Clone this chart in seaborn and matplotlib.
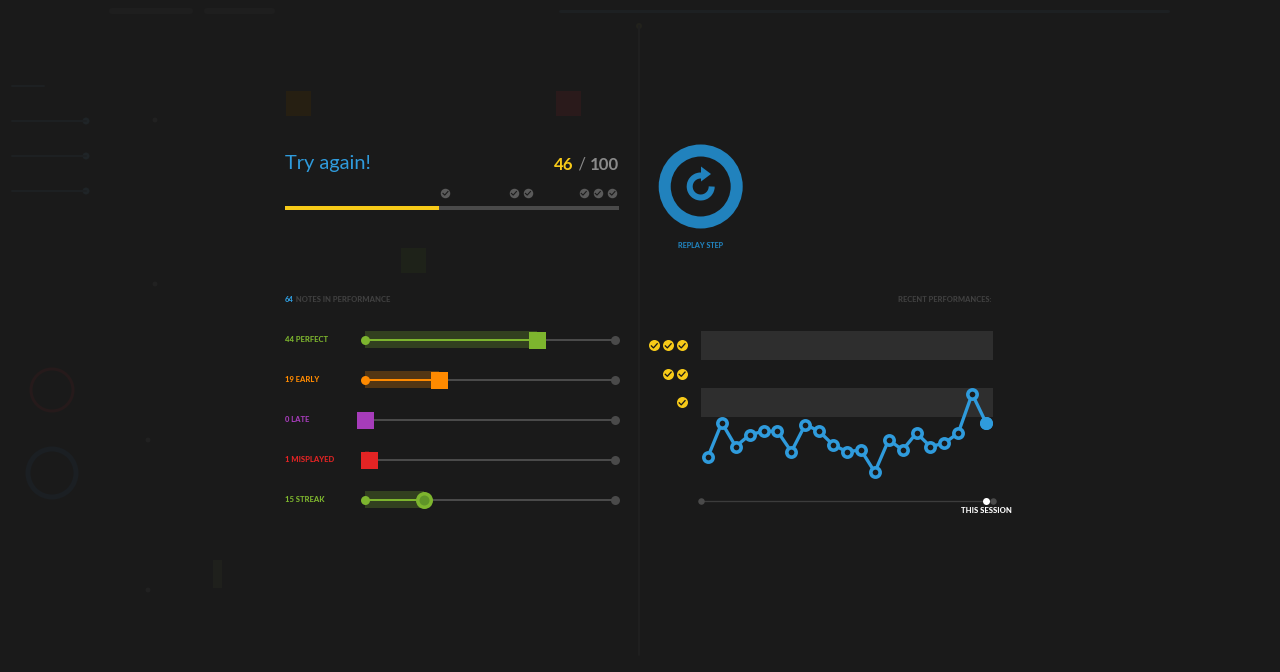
import matplotlib
matplotlib.use('Agg')
import matplotlib.pyplot as plt
import seaborn as sns
import pandas as pd
from matplotlib.patches import Circle, Rectangle, Arc, Polygon
from matplotlib.path import Path

# values
score = 46
score_max = 100
star_marks = [48, 68.5, 72.7, 89.4, 93.6, 98]

note_total = 64
slider_names = ['PERFECT', 'EARLY', 'LATE', 'MISPLAYED', 'STREAK']
slider_counts = [44, 19, 0, 1, 15]
slider_colors = ['#7db52e', '#ff8a00', '#a63cba', '#e32424', '#7db52e']

recent_scores = [26, 46, 32, 39, 41, 41, 29, 45, 41, 33, 29, 30, 17, 36, 30, 40, 32, 34, 40, 63, 46]
band_ranges = [(83, 100), (49.5, 66.5)]
star_rows = [3, 2, 1]
star_row_scores = [91.5, 74.8, 58]

BG = '#1a1a1a'
BLUE = '#2f9bdc'
RING = '#2182bd'
YELLOW = '#f7ca18'
GREY = '#4a4a4a'
HEAVY = 900
W, H = 1280, 672
PT = 0.72  # one pixel in points at dpi 100

sns.set_theme(style='dark', rc={'figure.facecolor': BG, 'axes.facecolor': BG, 'savefig.facecolor': BG})
plt.rcParams['font.family'] = ['Lato', 'DejaVu Sans']


def px_axes(fig, left, top, right, bottom):
    ax = fig.add_axes([left / W, 1 - bottom / H, (right - left) / W, (bottom - top) / H])
    ax.axis('off')
    return ax


def dots(ax, x, y, size, color, **kw):
    sns.scatterplot(x=x, y=y, ax=ax, s=(size * PT) ** 2, color=color, linewidth=0, clip_on=False, legend=False, **kw)


fig = plt.figure(figsize=(W / 100, H / 100), dpi=100)

# page furniture in pixel coordinates, barely visible behind the overlay
page = px_axes(fig, 0, 0, W, H)
page.set_xlim(0, W)
page.set_ylim(H, 0)
page.plot([639, 639], [26, 655], color='#1f1f1f', lw=2 * PT)
page.add_patch(Circle((639, 26), 3, color='#22221c', lw=0))
page.plot([560, 1168], [11, 11], color='#1d2022', lw=3 * PT)
for x0, x1 in [(112, 190), (207, 272)]:
    page.plot([x0, x1], [11, 11], color='#1e1e1e', lw=6 * PT)
for x, y, c in [(298, 103, '#261f12'), (568, 103, '#2a1a1b'), (413, 260, '#1e2219')]:
    page.add_patch(Rectangle((x - 12.5, y - 12.5), 25, 25, color=c, lw=0))
for y in [121, 156, 191]:
    page.plot([12, 86], [y, y], color='#1d2022', lw=2 * PT)
    page.add_patch(Circle((86, y), 3.5, color='#1f2427', lw=0))
page.plot([12, 44], [86, 86], color='#1d2022', lw=2 * PT)
page.add_patch(Circle((52, 390), 21, fill=False, ec='#261a1b', lw=3 * PT))
page.add_patch(Circle((52, 473), 24, fill=False, ec='#1b1f23', lw=5 * PT))
for x, y in [(155, 120), (155, 284), (148, 440), (148, 590)]:
    page.add_patch(Circle((x, y), 2.5, color='#212121', lw=0))
page.add_patch(Rectangle((213, 560), 9, 28, color='#1f201c', lw=0))

# replay button
cx, cy = 700.7, 186.5
page.add_patch(Circle((cx, cy), 36, fill=False, ec=RING, lw=12 * PT))
page.add_patch(Arc((cx, cy), 22, 22, theta1=0, theta2=272, ec=RING, lw=6 * PT))
page.add_patch(Polygon([(701, 166.5), (711, 174), (701, 181.5)], color=RING, lw=0))
page.text(cx, 246, 'REPLAY STEP', color=RING, fontsize=5.2, fontweight=HEAVY, ha='center', va='center')

# headline and score
page.text(285, 163, 'Try again!', color=BLUE, fontsize=14.4, ha='left', va='center')
t = page.text(554, 165, str(score), color=YELLOW, fontsize=12.2, fontweight='bold', ha='left', va='center')
t = page.annotate(' / ', xy=(1, 0), xycoords=t, va='bottom', color='#8a8a8a', fontsize=12.2)
page.annotate(str(score_max), xy=(1, 0), xycoords=t, va='bottom', color='#8a8a8a', fontsize=12.2, fontweight='bold')

t = page.text(285, 299.5, str(note_total), color=BLUE, fontsize=5.5, fontweight=HEAVY, ha='left', va='center')
page.annotate(' NOTES IN PERFORMANCE', xy=(1, 0), xycoords=t, va='bottom', color='#404040', fontsize=5.5, fontweight=HEAVY)
page.text(992, 299.5, 'RECENT PERFORMANCES:', color='#404040', fontsize=5.4, fontweight=HEAVY, ha='right', va='center')

# score bar
bar = px_axes(fig, 285, 188, 619, 213)
bar.set_xlim(0, score_max)
bar.set_ylim(-1 / 3, 4 / 3)
bar.plot([0, score_max], [0, 0], color=GREY, lw=4 * PT, solid_capstyle='butt')
bar.plot([0, score], [0, 0], color=YELLOW, lw=4 * PT, solid_capstyle='butt')
dots(bar, star_marks, [1] * len(star_marks), 9.5, '#5a5a5a')
CHECK = Path([(-0.55, 0.0), (-0.12, -0.42), (0.6, 0.38)])
bar.scatter(star_marks, [1] * len(star_marks), marker=CHECK, s=(6 * PT) ** 2, facecolors='none',
            edgecolors=BG, linewidths=1.1 * PT, clip_on=False)

# sliders
sl = px_axes(fig, 365, 319.5, 615, 519.5)
df = pd.DataFrame({'name': slider_names, 'count': slider_counts})
sns.barplot(data=df, x='count', y='name', hue='name', palette=slider_colors, width=0.43, alpha=0.25,
            ax=sl, orient='h', legend=False, saturation=1, linewidth=0, edgecolor='none')
sl.axis('off')
sl.set_xlim(0, note_total)
sl.set_ylim(4.5, -0.5)
for i, (name, count, color) in enumerate(zip(slider_names, slider_counts, slider_colors)):
    sl.plot([0, note_total], [i, i], color=GREY, lw=2 * PT, zorder=3, clip_on=False)
    dots(sl, [note_total], [i], 9, GREY, zorder=4)
    if count > 1:
        sl.plot([0, count], [i, i], color=color, lw=2 * PT, zorder=4)
        dots(sl, [0], [i], 9, color, zorder=5)
    if name == 'STREAK':
        dots(sl, [count], [i], 17, color, zorder=6)
        dots(sl, [count], [i], 10, '#5f9428', zorder=7)
    else:
        sns.scatterplot(x=[count], y=[i], ax=sl, marker='s', s=(17 * PT) ** 2, color=color, linewidth=0,
                        clip_on=False, legend=False, zorder=6)
    sl.text(-20.5, i, f'{count} {name}', color=color, fontsize=5.5, fontweight=HEAVY, ha='left', va='center')

# recent performances
ch = px_axes(fig, 701, 331, 993, 501)
for low, high in band_ranges:
    ch.axhspan(low, high, color='#2e2e2e', lw=0)
idx = list(range(len(recent_scores)))
sns.lineplot(x=idx, y=recent_scores, ax=ch, color=BLUE, lw=3.3 * PT, marker='o', markersize=9.3 * PT,
             markerfacecolor=BG, markeredgecolor=BLUE, markeredgewidth=3.6 * PT, clip_on=False, zorder=5)
dots(ch, [idx[-1]], [recent_scores[-1]], 13, BLUE, zorder=6)
ch.axis('off')
ch.set_xlim(-0.5, len(idx) - 0.5)
ch.set_ylim(0, 100)

ch.plot([-0.5, len(idx) - 0.5], [0, 0], color='#3c3c3c', lw=1.3 * PT, clip_on=False, zorder=2)
dots(ch, [-0.5, len(idx) - 0.5], [0, 0], 6.5, GREY, zorder=3)
dots(ch, [idx[-1]], [0], 7, 'white', zorder=4)
ch.annotate('THIS SESSION', xy=(idx[-1], 0), xytext=(0, -6.9), textcoords='offset points', color='white',
            fontsize=5.6, fontweight=HEAVY, ha='center', va='center', annotation_clip=False)

for stars, row_score in zip(star_rows, star_row_scores):
    xs = [-1.87 - k for k in range(stars)]
    ys = [row_score] * stars
    dots(ch, xs, ys, 11, YELLOW, zorder=3)
    ch.scatter(xs, ys, marker=CHECK, s=(7 * PT) ** 2, facecolors='none', edgecolors=BG,
               linewidths=1.3 * PT, clip_on=False, zorder=4)

fig.savefig('out.png', dpi=100)
